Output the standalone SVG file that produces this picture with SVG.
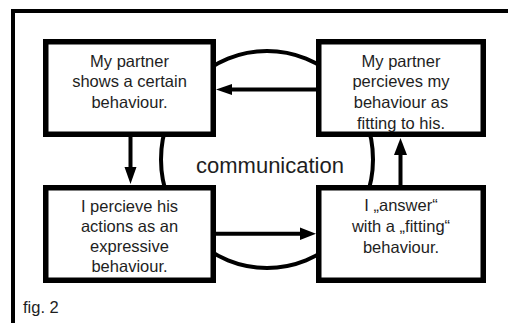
<svg xmlns="http://www.w3.org/2000/svg" width="508" height="323" viewBox="0 0 508 323">
<style>
.box{fill:#fff;stroke:#000;stroke-width:5.5}
.t{font-family:"Liberation Sans",Arial,sans-serif;font-size:16.5px;fill:#1e1e1e;text-anchor:middle}
.ln{fill:none;stroke:#000;stroke-width:4}
.ah{fill:#000}
</style>
<rect width="508" height="323" fill="#fff"/>
<path d="M13,325 V11 H510" fill="none" stroke="#000" stroke-width="4"/>
<g id="connectors">
<ellipse class="ln" cx="267" cy="159.5" rx="106" ry="108.5"/>
<line class="ln" x1="316" y1="89.5" x2="228" y2="89.5"/>
<polygon class="ah" points="216,89.5 232,84 232,95"/>
<line class="ln" x1="130.5" y1="137" x2="130.5" y2="170"/>
<polygon class="ah" points="130.5,184 124.5,167 136.5,167"/>
<line class="ln" x1="400.5" y1="185" x2="400.5" y2="152"/>
<polygon class="ah" points="400.5,138 394,155 407,155"/>
<line class="ln" x1="216" y1="233.8" x2="303" y2="233.8"/>
<polygon class="ah" points="316,233.8 300,227.5 300,240"/>
</g>
<g id="n1">
<rect class="box" x="45.75" y="41.75" width="167.5" height="92.5"/>
<text class="t" x="129.5" y="66.5">My partner</text>
<text class="t" x="129.5" y="87.3">shows a certain</text>
<text class="t" x="129.5" y="108.2">behaviour.</text>
</g>
<g id="n2">
<rect class="box" x="318.75" y="41.75" width="164.5" height="92.5"/>
<text class="t" x="401" y="66.5">My partner</text>
<text class="t" x="401" y="87.3">percieves my</text>
<text class="t" x="401" y="108">behaviour as</text>
<text class="t" x="401" y="128.6">fitting to his.</text>
</g>
<g id="n3">
<rect class="box" x="45.75" y="187.75" width="167.5" height="92.5"/>
<text class="t" x="129.5" y="212">I percieve his</text>
<text class="t" x="129.5" y="232">actions as an</text>
<text class="t" x="129.5" y="251.5">expressive</text>
<text class="t" x="129.5" y="272">behaviour.</text>
</g>
<g id="n4">
<rect class="box" x="318.75" y="187.75" width="164.5" height="92.5"/>
<text class="t" x="401" y="211.3">I „answer“</text>
<text class="t" x="401" y="232">with a „fitting“</text>
<text class="t" x="401" y="252.7">behaviour.</text>
</g>
<g id="label">
<text class="t" x="270" y="173.3" style="font-size:22px">communication</text>
<text class="t" x="23" y="313.3" style="font-size:16.5px;text-anchor:start">fig. 2</text>
</g>
</svg>
